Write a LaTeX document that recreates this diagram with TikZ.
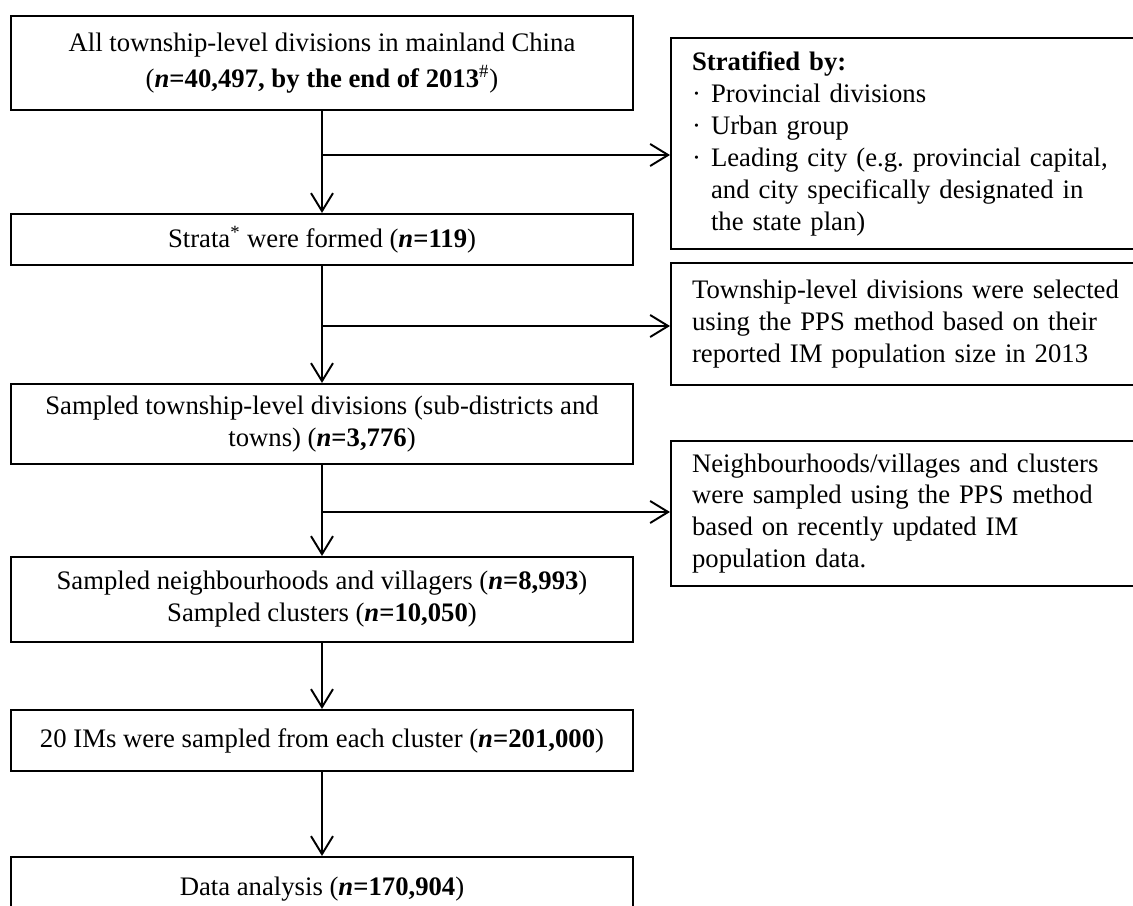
\documentclass[tikz,border=0pt]{standalone}
\usepackage{fontspec}
\setmainfont{Liberation Serif}
\usetikzlibrary{arrows.meta}
\frenchspacing
\begin{document}
\begin{tikzpicture}[x=0.02cm,y=-0.02cm,
  txt/.style={font=\fontsize{15.2}{18.2}\selectfont},
  lbox/.style={txt, draw, line width=1.2pt, minimum width=12.44cm, align=center, inner sep=0pt},
  rbox/.style={txt, draw, line width=1.2pt, anchor=north west, align=left, text width=8.8cm, inner xsep=0.42cm, inner ysep=0pt},
  conn/.style={line width=1.1pt},
  arr/.style={conn, -{Straight Barb[length=0.36cm,width=0.44cm]}}]
\useasboundingbox (0,0) rectangle (1133,906);
\clip (0,0) rectangle (1133,906);
\fill[white] (0,0) rectangle (1133,906);

% left column
\node[lbox, minimum height=1.88cm] (b1) at (322,63)
  {All township-level divisions in mainland China\\[2pt](\textbf{\textit{n}=40,497, by the end of 2013}\textsuperscript{\#})};
\node[lbox, minimum height=1.02cm] (b2) at (322,239.5)
  {Strata\textsuperscript{*} were formed (\textbf{\textit{n}=119})};
\node[lbox, minimum height=1.6cm] (b3) at (322,424)
  {Sampled township-level divisions (sub-districts and\\towns) (\textbf{\textit{n}=3,776})};
\node[lbox, minimum height=1.7cm] (b4) at (322,599.5)
  {Sampled neighbourhoods and villagers (\textbf{\textit{n}=8,993})\\Sampled clusters (\textbf{\textit{n}=10,050})};
\node[lbox, minimum height=1.22cm] (b5) at (322,740.5)
  {20 IMs were sampled from each cluster (\textbf{\textit{n}=201,000})};
\node[lbox, minimum height=1.3cm] (b6) at (322,889.5)
  {Data analysis (\textbf{\textit{n}=170,904})};

% right column
\node[rbox, minimum height=4.22cm] (r1) at (670,37)
  {\textbf{Stratified by:}\\
   \makebox[0.38cm][l]{·}Provincial divisions\\
   \makebox[0.38cm][l]{·}Urban group\\
   \makebox[0.38cm][l]{·}Leading city (e.g. provincial capital,\\
   \hspace*{0.38cm}and city specifically designated in\\
   \hspace*{0.38cm}the state plan)};
\node[rbox, minimum height=2.44cm] (r2) at (670,262)
  {Township-level divisions were selected\\
   using the PPS method based on their\\
   reported IM population size in 2013};
\node[rbox, minimum height=2.9cm] (r3) at (670,440)
  {Neighbourhoods/villages and clusters\\
   were sampled using the PPS method\\
   based on recently updated IM\\
   population data.};

% branch points
\coordinate (c1) at (322,155);
\coordinate (c2) at (322,326);
\coordinate (c3) at (322,512);

% connectors
\draw[arr] (b1.south) -- (b2.north);
\draw[arr] (b2.south) -- (b3.north);
\draw[arr] (b3.south) -- (b4.north);
\draw[arr] (b4.south) -- (b5.north);
\draw[arr] (b5.south) -- (b6.north);
\draw[arr] (c1) -- (c1 -| r1.west);
\draw[arr] (c2) -- (c2 -| r2.west);
\draw[arr] (c3) -- (c3 -| r3.west);
\end{tikzpicture}
\end{document}
